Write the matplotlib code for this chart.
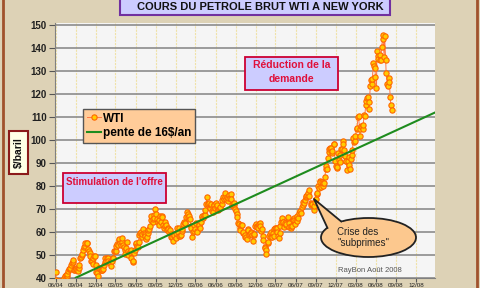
import matplotlib
matplotlib.use('Agg')
import matplotlib.pyplot as plt
import matplotlib.dates as mdates
import numpy as np
from matplotlib.patches import Rectangle, Ellipse, Polygon
from matplotlib.lines import Line2D

plt.rcParams['font.family'] = ['Liberation Sans', 'DejaVu Sans']

# ---------------- data (WTI closes, about twice a week, $/baril) ----------------
dates_2004 = ['06-01', '06-04', '06-09', '06-11', '06-16', '06-18', '06-23', '06-25', '06-30',
              '07-02', '07-07', '07-09', '07-14', '07-16', '07-21', '07-23', '07-28', '07-30',
              '08-04', '08-06', '08-11', '08-13', '08-18', '08-20', '08-25', '08-27',
              '09-01', '09-03', '09-08', '09-10', '09-15', '09-17', '09-22', '09-24', '09-29',
              '10-01', '10-06', '10-08', '10-13', '10-15', '10-20', '10-22', '10-27', '10-29',
              '11-03', '11-05', '11-10', '11-12', '11-17', '11-19', '11-24', '11-26',
              '12-01', '12-03', '12-08', '12-10', '12-15', '12-17', '12-22', '12-24', '12-29', '12-31']
wti_2004 = [42.3, 39.0, 37.0, 38.5, 37.6, 38.6, 37.6, 37.6, 37.1,
            38.4, 39.1, 39.9, 40.8, 41.3, 40.6, 41.7, 42.9, 43.8,
            43.8, 44.4, 45.5, 46.6, 46.8, 47.9, 43.5, 43.2,
            44.1, 43.9, 43.3, 43.0, 44.4, 45.6, 48.4, 48.9, 49.9,
            50.1, 52.0, 53.3, 53.6, 54.9, 54.9, 55.2, 52.5, 51.8,
            50.9, 49.6, 47.4, 47.3, 46.1, 48.4, 49.4, 49.4,
            45.5, 42.5, 41.9, 40.7, 44.2, 44.2, 43.9, 43.5, 43.5, 43.5]

dates_2005 = ['01-05', '01-07', '01-12', '01-14', '01-19', '01-21', '01-26', '01-28',
              '02-02', '02-04', '02-09', '02-11', '02-16', '02-18', '02-23', '02-25',
              '03-02', '03-04', '03-09', '03-11', '03-16', '03-18', '03-23', '03-24', '03-30',
              '04-01', '04-06', '04-08', '04-13', '04-15', '04-20', '04-22', '04-27', '04-29',
              '05-04', '05-06', '05-11', '05-13', '05-18', '05-20', '05-25', '05-27',
              '06-01', '06-03', '06-08', '06-10', '06-15', '06-17', '06-22', '06-24', '06-29',
              '07-01', '07-06', '07-08', '07-13', '07-15', '07-20', '07-22', '07-27', '07-29',
              '08-03', '08-05', '08-10', '08-12', '08-17', '08-19', '08-24', '08-26', '08-30',
              '09-02', '09-07', '09-09', '09-14', '09-16', '09-21', '09-23', '09-28', '09-30',
              '10-05', '10-07', '10-12', '10-14', '10-19', '10-21', '10-26', '10-28',
              '11-02', '11-04', '11-09', '11-11', '11-16', '11-18', '11-23', '11-25', '11-30',
              '12-02', '12-07', '12-09', '12-14', '12-16', '12-21', '12-23', '12-28', '12-30']
wti_2005 = [43.9, 45.4, 47.0, 48.4, 47.1, 48.5, 48.6, 47.2,
            46.7, 46.5, 45.3, 47.1, 48.4, 48.4, 51.4, 51.5,
            51.7, 53.8, 54.5, 54.4, 56.5, 56.7, 55.0, 54.4, 55.4,
            57.3, 54.2, 53.3, 51.9, 50.5, 52.7, 55.4, 51.8, 49.7,
            51.0, 51.0, 51.9, 48.7, 46.8, 47.2, 50.8, 51.9,
            54.6, 55.0, 53.6, 53.5, 55.6, 58.5, 59.4, 59.8, 57.9,
            59.0, 61.3, 59.6, 59.0, 58.1, 56.7, 57.9, 59.4, 60.6,
            61.1, 62.3, 64.9, 66.9, 64.3, 65.4, 67.3, 66.1, 69.8,
            67.6, 65.4, 64.1, 65.1, 63.0, 66.8, 64.2, 66.8, 66.2,
            63.1, 61.8, 64.1, 62.6, 62.8, 60.6, 61.8, 61.1,
            59.8, 60.6, 58.9, 57.5, 57.8, 56.1, 58.0, 58.7, 57.3,
            59.3, 61.4, 60.0, 61.4, 58.1, 58.3, 58.4, 60.4, 61.0]

dates_2006 = ['01-04', '01-06', '01-11', '01-13', '01-18', '01-20', '01-25', '01-27',
              '02-01', '02-03', '02-08', '02-10', '02-15', '02-17', '02-22', '02-24',
              '03-01', '03-03', '03-08', '03-10', '03-15', '03-17', '03-22', '03-24', '03-29', '03-31',
              '04-05', '04-07', '04-12', '04-14', '04-19', '04-21', '04-26', '04-28',
              '05-03', '05-05', '05-10', '05-12', '05-17', '05-19', '05-24', '05-26', '05-31',
              '06-02', '06-07', '06-09', '06-14', '06-16', '06-21', '06-23', '06-28', '06-30',
              '07-05', '07-07', '07-12', '07-14', '07-19', '07-21', '07-26', '07-28',
              '08-02', '08-04', '08-09', '08-11', '08-16', '08-18', '08-23', '08-25', '08-30',
              '09-01', '09-06', '09-08', '09-13', '09-15', '09-20', '09-22', '09-27', '09-29',
              '10-04', '10-06', '10-11', '10-13', '10-18', '10-20', '10-25', '10-27',
              '11-01', '11-03', '11-08', '11-10', '11-15', '11-17', '11-22', '11-24', '11-29',
              '12-01', '12-06', '12-08', '12-13', '12-15', '12-20', '12-22', '12-27', '12-29']
wti_2006 = [63.4, 64.2, 63.9, 63.9, 66.2, 68.4, 66.2, 67.8,
            66.6, 65.4, 62.6, 61.8, 57.7, 59.9, 60.2, 62.9,
            61.1, 63.7, 60.5, 60.0, 63.2, 62.7, 61.4, 64.3, 66.5, 66.6,
            66.0, 67.4, 67.1, 69.3, 72.2, 75.2, 71.9, 71.9,
            72.5, 70.2, 71.4, 72.0, 68.9, 68.5, 71.8, 71.4, 70.3,
            72.3, 70.8, 71.6, 69.5, 69.9, 70.3, 70.9, 71.9, 73.9,
            75.2, 74.1, 75.0, 77.0, 74.1, 75.0, 73.4, 74.5,
            75.8, 74.8, 76.3, 74.4, 71.8, 71.1, 71.6, 72.5, 70.0,
            69.2, 67.5, 66.3, 63.8, 63.3, 61.7, 60.6, 62.8, 62.9,
            59.4, 59.8, 57.6, 58.6, 57.9, 56.8, 61.3, 60.8,
            58.7, 59.1, 60.0, 59.6, 58.5, 55.8, 58.7, 59.2, 62.4,
            63.4, 62.4, 62.0, 61.4, 63.4, 63.7, 62.4, 60.3, 61.1]

dates_2007 = ['01-03', '01-05', '01-10', '01-12', '01-17', '01-18', '01-24', '01-26', '01-31',
              '02-02', '02-07', '02-09', '02-14', '02-16', '02-21', '02-23', '02-28',
              '03-02', '03-07', '03-09', '03-14', '03-16', '03-21', '03-23', '03-28', '03-30',
              '04-04', '04-06', '04-11', '04-13', '04-18', '04-20', '04-25', '04-27',
              '05-02', '05-04', '05-09', '05-11', '05-16', '05-18', '05-23', '05-25', '05-30',
              '06-01', '06-06', '06-08', '06-13', '06-15', '06-20', '06-22', '06-27', '06-29',
              '07-04', '07-06', '07-11', '07-13', '07-18', '07-20', '07-25', '07-27', '07-31',
              '08-03', '08-08', '08-10', '08-15', '08-17', '08-22', '08-24', '08-29', '08-31',
              '09-05', '09-07', '09-12', '09-14', '09-19', '09-21', '09-26', '09-28',
              '10-03', '10-05', '10-10', '10-12', '10-17', '10-19', '10-24', '10-26', '10-31',
              '11-02', '11-07', '11-09', '11-14', '11-16', '11-21', '11-23', '11-28', '11-30',
              '12-05', '12-07', '12-12', '12-14', '12-19', '12-21', '12-26', '12-28']
wti_2007 = [58.3, 56.3, 53.3, 53.0, 51.9, 50.5, 55.0, 55.4, 58.1,
            59.0, 57.7, 59.9, 57.7, 59.4, 58.0, 61.1, 61.8,
            61.6, 61.8, 60.0, 58.2, 57.1, 59.6, 62.3, 64.1, 65.9,
            64.4, 64.3, 62.0, 63.6, 63.1, 63.4, 65.8, 66.5,
            63.7, 61.9, 61.6, 62.4, 62.6, 64.9, 65.8, 65.2, 63.5,
            65.1, 66.6, 64.8, 65.9, 68.0, 69.1, 69.0, 68.0, 70.7,
            71.5, 72.8, 72.5, 73.9, 75.0, 75.6, 75.9, 77.0, 78.2,
            75.5, 72.4, 71.5, 71.9, 72.0, 69.3, 71.1, 72.9, 74.0,
            76.3, 76.7, 79.9, 79.1, 81.9, 81.6, 79.6, 81.7,
            79.9, 81.2, 81.3, 83.7, 87.4, 88.6, 87.1, 92.0, 94.5,
            95.9, 96.4, 96.3, 94.1, 95.1, 98.0, 98.2, 90.6, 88.7,
            87.5, 88.3, 94.4, 91.3, 90.5, 93.3, 95.9, 96.0]

dates_2008 = ['01-02', '01-04', '01-09', '01-11', '01-16', '01-18', '01-22', '01-25', '01-30',
              '02-01', '02-06', '02-08', '02-13', '02-15', '02-20', '02-22', '02-27', '02-29',
              '03-05', '03-07', '03-12', '03-14', '03-19', '03-20', '03-26', '03-28',
              '04-02', '04-04', '04-09', '04-11', '04-16', '04-18', '04-23', '04-25', '04-30',
              '05-02', '05-07', '05-09', '05-14', '05-16', '05-21', '05-23', '05-28', '05-30',
              '06-04', '06-06', '06-11', '06-13', '06-18', '06-20', '06-25', '06-27',
              '07-02', '07-03', '07-09', '07-11', '07-16', '07-18', '07-23', '07-25', '07-30',
              '08-01', '08-06', '08-08', '08-12']
wti_2008 = [99.6, 97.9, 95.7, 92.7, 90.8, 90.6, 87.0, 90.7, 92.3,
            89.0, 87.1, 91.8, 93.3, 95.5, 100.7, 98.8, 99.6, 101.8,
            104.5, 105.2, 109.9, 110.2, 104.5, 101.8, 105.9, 105.6,
            104.8, 106.2, 110.9, 110.1, 114.9, 116.7, 118.3, 118.5, 113.5,
            116.3, 123.5, 126.0, 124.1, 126.3, 133.2, 132.2, 131.0, 127.4,
            122.3, 138.5, 136.4, 134.9, 136.7, 134.6, 134.5, 140.2,
            143.6, 145.3, 136.1, 145.1, 134.6, 128.9, 124.4, 123.3, 126.8,
            125.1, 118.6, 115.2, 113.0]

trend_start_date = '2004-09-01'
trend_start_value = 40.0
trend_slope = 16.0  # $/an
trend_end_date = '2009-02-26'

tick_dates = ['2004-06-01', '2004-09-01', '2004-12-01', '2005-03-01', '2005-06-01',
              '2005-09-01', '2005-12-01', '2006-03-01', '2006-06-01', '2006-09-01',
              '2006-12-01', '2007-03-01', '2007-06-01', '2007-09-01', '2007-12-01',
              '2008-03-01', '2008-06-01', '2008-09-01', '2008-12-01']
tick_labels = ['06/04', '09/04', '12/04', '03/05', '06/05', '09/05', '12/05',
               '03/06', '06/06', '09/06', '12/06', '03/07', '06/07', '09/07',
               '12/07', '03/08', '06/08', '09/08', '12/08']
y_ticks = [40, 50, 60, 70, 80, 90, 100, 110, 120, 130, 140, 150]

# ---------------- figure ----------------
W, H = 480, 288
fig = plt.figure(figsize=(W / 100, H / 100), dpi=100)
fig.patch.set_facecolor('#DDD2B6')


def fx(x):
    return x / W


def fy(y):
    return 1 - y / H


ax = fig.add_axes([fx(55), fy(277.7), 380 / W, (277.7 - 23) / H])
ax.set_facecolor('#F5F5F5')

all_dates = (['2004-' + d for d in dates_2004] + ['2005-' + d for d in dates_2005] +
             ['2006-' + d for d in dates_2006] + ['2007-' + d for d in dates_2007] +
             ['2008-' + d for d in dates_2008])
dates = np.array(mdates.datestr2num(all_dates))
wti = np.array(wti_2004 + wti_2005 + wti_2006 + wti_2007 + wti_2008)

ax.plot(dates, wti, color='#FF7744', lw=0.7, marker='o', ms=3.8,
        mfc='#FFCC00', mec='#FF6600', mew=0.8, label='WTI', zorder=3)

t0 = mdates.datestr2num(trend_start_date)
t1 = mdates.datestr2num(trend_end_date)
v1 = trend_start_value + trend_slope * (t1 - t0) / 365.25
ax.plot([t0, t1], [trend_start_value, v1], color='#1E8C1E', lw=1.5,
        label='pente de 16$/an', zorder=4)

ax.set_xlim(mdates.datestr2num('2004-05-29'), mdates.datestr2num('2009-02-26'))
ax.set_ylim(40, 150.7)

ax.set_yticks(y_ticks)
ax.set_yticklabels([str(v) for v in y_ticks], fontsize=7, fontweight='bold', color='#202020')
ax.set_xticks(mdates.datestr2num(tick_dates))
ax.set_xticklabels(tick_labels, fontsize=4.5, color='#202020')
ax.tick_params(axis='both', direction='out', length=4, width=0.8, color='#555555')
ax.tick_params(axis='y', pad=2)
ax.tick_params(axis='x', pad=1, length=3)

ax.grid(axis='y', color='#8C8C8C', lw=1.2, zorder=1)
ax.grid(axis='x', color='#F0E2A8', lw=0.8, ls=(0, (2, 1)), zorder=1)
ax.set_axisbelow(True)
for s in ['top', 'right']:
    ax.spines[s].set_visible(False)
ax.spines['left'].set_color('#808080')
ax.spines['bottom'].set_color('#808080')

# legend
leg = ax.legend(loc='upper left', bbox_to_anchor=(fx(83), fy(109)),
                bbox_transform=fig.transFigure, frameon=True, fancybox=False,
                facecolor='#FFCC99', edgecolor='#555555', framealpha=1,
                prop={'weight': 'bold', 'size': 8.5}, numpoints=1,
                handlelength=1.25, handletextpad=0.15, borderpad=0.3,
                labelspacing=0.25, borderaxespad=0)
leg.get_frame().set_linewidth(1.0)

# border
fig.add_artist(Rectangle((fx(3), fy(300)), fx(474), 320 / H, fill=False,
                         edgecolor='#A0522D', lw=2, transform=fig.transFigure, zorder=0.5))

# title box
fig.add_artist(Rectangle((fx(120), fy(15)), fx(270), 20 / H, facecolor='#CCCCFF',
                         edgecolor='#7030A0', lw=1.5, transform=fig.transFigure, zorder=5))
fig.text(fx(260), fy(10), 'COURS DU PETROLE BRUT WTI A NEW YORK', ha='center',
         va='baseline', fontsize=8, fontweight='bold', color='#111111', zorder=6)

# y label box
fig.add_artist(Rectangle((fx(9), fy(174)), fx(19), 43 / H, facecolor='#FFFFE6',
                         edgecolor='#8B1A1A', lw=1.5, transform=fig.transFigure, zorder=5))
fig.text(fx(18.5), fy(152.5), '$/baril', rotation=90, ha='center', va='center',
         fontsize=7.5, fontweight='bold', color='#111111', zorder=6)

# Stimulation de l'offre
fig.add_artist(Rectangle((fx(63), fy(203)), fx(103), 30 / H, facecolor='#CCCCFF',
                         edgecolor='#CC0033', lw=1.3, transform=fig.transFigure, zorder=5))
fig.text(fx(114.5), fy(182), "Stimulation de l'offre", ha='center', va='center',
         fontsize=7, fontweight='bold', color='#E0103A', zorder=6)

# Réduction de la demande
fig.add_artist(Rectangle((fx(245), fy(90)), fx(93), 33 / H, facecolor='#CCCCFF',
                         edgecolor='#CC0033', lw=1.3, transform=fig.transFigure, zorder=5))
fig.text(fx(291.5), fy(65), 'Réduction de la', ha='center', va='center',
         fontsize=7.5, fontweight='bold', color='#E0103A', zorder=6)
fig.text(fx(291.5), fy(79), 'demande', ha='center', va='center',
         fontsize=7.5, fontweight='bold', color='#E0103A', zorder=6)

# callout "Crise des subprimes"
cx, cy, a, b = 368.5, 237.5, 47.5, 19.5
tip = (314, 199)
th1, th2 = np.deg2rad(150), np.deg2rad(125)
b1 = (cx + a * np.cos(th1), cy - b * np.sin(th1))
b2 = (cx + a * np.cos(th2), cy - b * np.sin(th2))
callout_fill = '#FCC88E'
fig.add_artist(Ellipse((fx(cx), fy(cy)), 2 * a / W, 2 * b / H, facecolor=callout_fill,
                       edgecolor='#222222', lw=1.3, transform=fig.transFigure, zorder=5))
inner1 = (cx + 0.8 * a * np.cos(th1), cy - 0.8 * b * np.sin(th1))
inner2 = (cx + 0.8 * a * np.cos(th2), cy - 0.8 * b * np.sin(th2))
fig.add_artist(Polygon([(fx(tip[0]), fy(tip[1])), (fx(b1[0]), fy(b1[1])),
                        (fx(inner1[0]), fy(inner1[1])), (fx(inner2[0]), fy(inner2[1])),
                        (fx(b2[0]), fy(b2[1]))], closed=True, facecolor=callout_fill,
                       edgecolor='none', transform=fig.transFigure, zorder=5.1))
fig.add_artist(Line2D([fx(b1[0]), fx(tip[0]), fx(b2[0])], [fy(b1[1]), fy(tip[1]), fy(b2[1])],
                      color='#222222', lw=1.3, transform=fig.transFigure, zorder=5.2))
fig.text(fx(337), fy(232), 'Crise des', ha='left', va='center', fontsize=7,
         color='#222222', zorder=6)
fig.text(fx(337), fy(243), '"subprimes"', ha='left', va='center', fontsize=7,
         color='#222222', zorder=6)

# signature
fig.text(fx(370), fy(271), 'RayBon Août 2008', ha='center', va='center', fontsize=5.5,
         color='#555555', zorder=6)

fig.savefig('out.png', dpi=100, facecolor=fig.get_facecolor())
